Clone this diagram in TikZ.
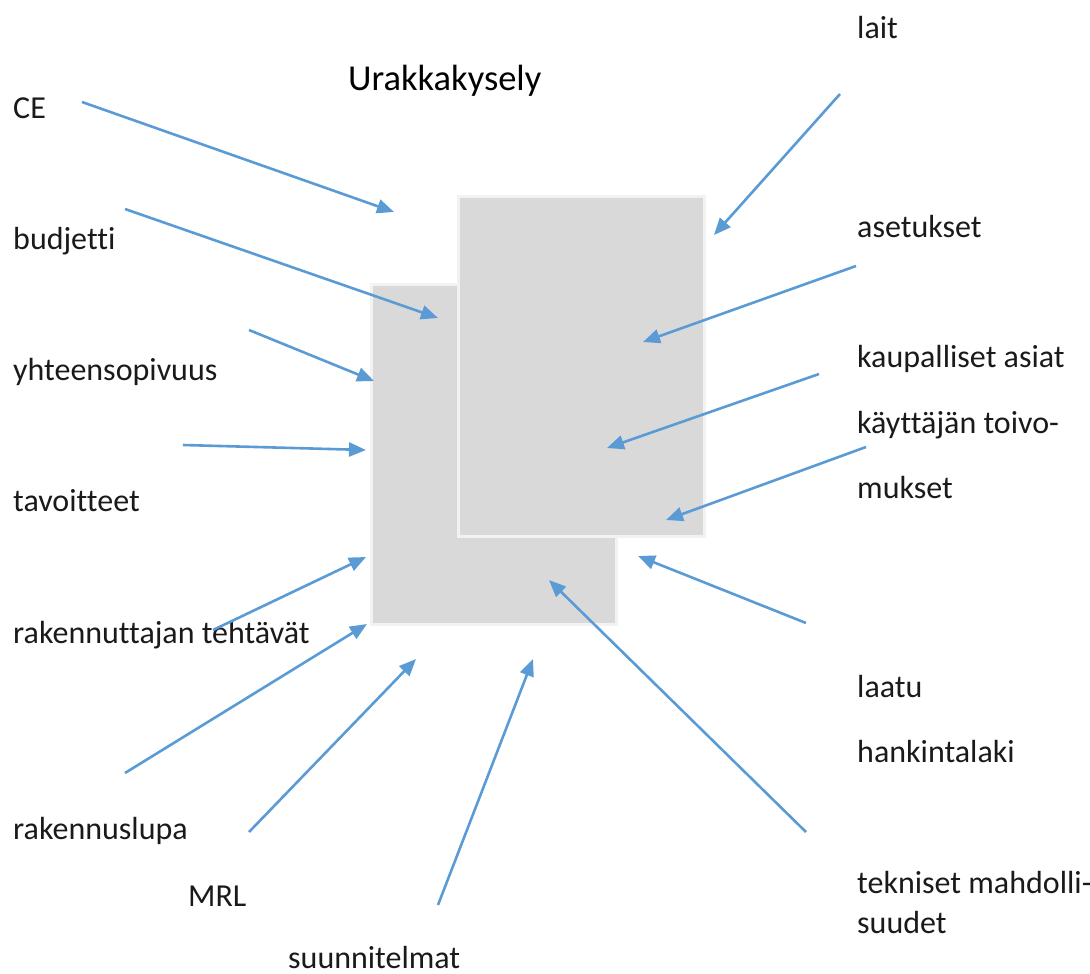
\documentclass[tikz,border=0pt]{standalone}
\usepackage{fontspec}
\setmainfont{Carlito}[Ligatures={NoCommon}]
\usetikzlibrary{arrows.meta}
\definecolor{arrowblue}{HTML}{5B9BD5}
\definecolor{sheetfill}{HTML}{D9D9D9}
\definecolor{sheetedge}{HTML}{F2F2F2}
\definecolor{textgray}{HTML}{1A1A1A}
\begin{document}
\begin{tikzpicture}[x=1pt,y=-1pt,
  lbl/.style={anchor=base west,inner sep=0pt,text=textgray,font=\fontsize{32}{38}\selectfont},
  sheet/.style={fill=sheetfill,draw=sheetedge,line width=3pt,inner sep=0pt,anchor=north west},
  feed/.style={draw=arrowblue,line width=2.6pt,-{Triangle[length=17pt,width=14pt]}}]
\useasboundingbox (0,0) rectangle (1090,974);
% two overlapping sheets
\node[sheet,minimum width=245pt,minimum height=340pt] (back) at (370,283) {};
\node[sheet,minimum width=246pt,minimum height=340pt] (front) at (457,195) {};
% title
\node[lbl,text=black,font=\fontsize{36.5}{42}\selectfont] (title) at (348,91) {Urakkakysely};
% left labels
\node[lbl] (ce) at (13,118) {CE};
\node[lbl] (budjetti) at (13,249) {budjetti};
\node[lbl] (yht) at (13,380) {yhteensopivuus};
\node[lbl] (tav) at (13,511) {tavoitteet};
\node[lbl] (rakt) at (13,643) {rakennuttajan tehtävät};
\node[lbl] (rakl) at (13,839) {rakennuslupa};
\node[lbl] (mrl) at (188,906) {MRL};
\node[lbl] (suun) at (288,968) {suunnitelmat};
% right labels
\node[lbl] (lait) at (857,39) {lait};
\node[lbl] (aset) at (857,237) {asetukset};
\node[lbl] (kaup) at (857,367) {kaupalliset asiat};
\node[lbl] (kayt) at (857,433) {käyttäjän toivo-};
\node[lbl] (muk) at (857,498) {mukset};
\node[lbl] (laatu) at (857,697) {laatu};
\node[lbl] (hank) at (857,762) {hankintalaki};
\node[lbl] (tek) at (857,893) {tekniset mahdolli-};
\node[lbl] (suud) at (857,933) {suudet};
% arrow ends
\coordinate (ce-s) at (82,102);     \coordinate (ce-e) at (394,212);
\coordinate (bu-s) at (125,209);    \coordinate (bu-e) at (438,318);
\coordinate (yh-s) at (249,330);    \coordinate (yh-e) at (374,381);
\coordinate (ta-s) at (183,445);    \coordinate (ta-e) at (366,450);
\coordinate (rt-s) at (213,630);    \coordinate (rt-e) at (366,557);
\coordinate (rl-s) at (125,773);    \coordinate (rl-e) at (367,624);
\coordinate (mr-s) at (249,832);    \coordinate (mr-e) at (416,659);
\coordinate (su-s) at (438,905);    \coordinate (su-e) at (533,659);
\coordinate (te-s) at (806,832);    \coordinate (te-e) at (549,580);
\coordinate (la-s) at (806,623);    \coordinate (la-e) at (638,556);
\coordinate (ka-s) at (866,447);    \coordinate (ka-e) at (666,520);
\coordinate (ku-s) at (819,374);    \coordinate (ku-e) at (607,448);
\coordinate (as-s) at (856,266);    \coordinate (as-e) at (643,342);
\coordinate (li-s) at (840,94);     \coordinate (li-e) at (714,235);
% arrows
\foreach \a in {ce,bu,yh,ta,rt,rl,mr,su,te,la,ka,ku,as,li}
  \draw[feed] (\a-s) -- (\a-e);
\end{tikzpicture}
\end{document}
